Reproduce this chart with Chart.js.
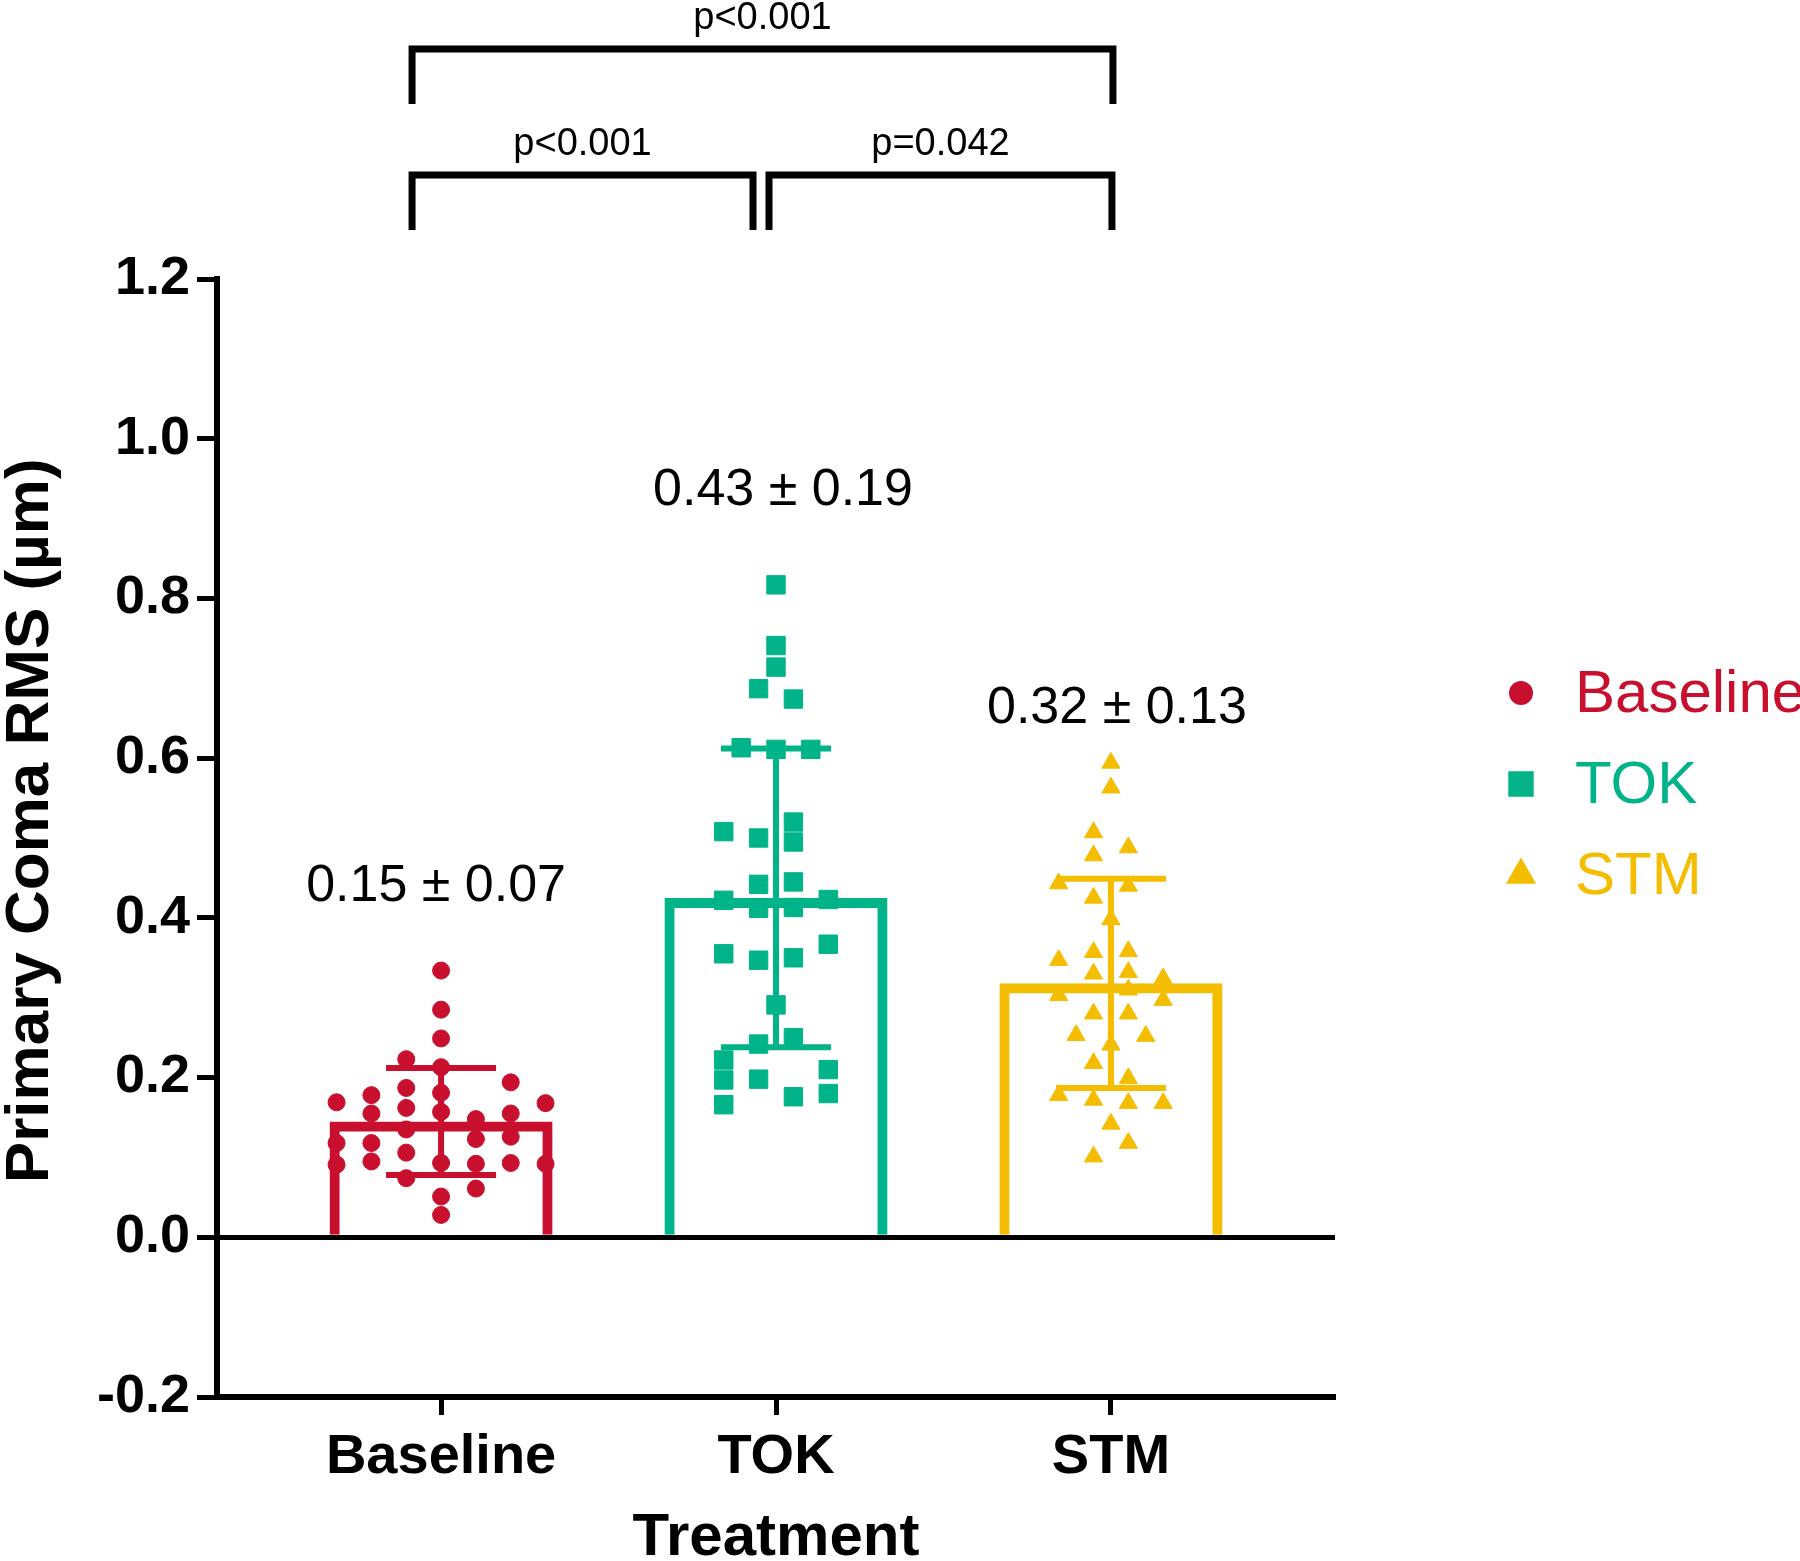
<!DOCTYPE html>
<html>
<head>
<meta charset="utf-8">
<script src="https://cdn.jsdelivr.net/npm/chart.js@4.4.0/dist/chart.umd.min.js"></script>
<style>
  html, body { margin: 0; padding: 0; background: #fff; }
</style>
</head>
<body>
<canvas id="comaChart" width="1800" height="1561"></canvas>
<script>
// groups and summary values
var groups = ['Baseline', 'TOK', 'STM'];
var groupColors = ['#C8102E', '#00B388', '#F5BD00'];
var means = [0.145, 0.425, 0.318];
var sds = [0.067, 0.187, 0.131];
var meanLabels = ['0.15 ± 0.07', '0.43 ± 0.19', '0.32 ± 0.13'];

// individual eyes, with the swarm lane each point sits in
var baselineValues = [0.334, 0.285, 0.249, 0.213, 0.181, 0.157, 0.093, 0.051, 0.028,
                      0.223, 0.187, 0.162, 0.135, 0.106, 0.074,
                      0.178, 0.155, 0.118, 0.095,
                      0.169, 0.118, 0.091,
                      0.148, 0.123, 0.092, 0.061,
                      0.194, 0.155, 0.126, 0.093,
                      0.168, 0.092];
var baselineLanes = [0, 0, 0, 0, 0, 0, 0, 0, 0,
                     -2, -2, -2, -2, -2, -2,
                     -4, -4, -4, -4,
                     -6, -6, -6,
                     2, 2, 2, 2,
                     4, 4, 4, 4,
                     6, 6];

var tokValues = [0.817, 0.741, 0.714, 0.611, 0.291,
                 0.687, 0.500, 0.442, 0.412, 0.347, 0.242, 0.198,
                 0.674, 0.520, 0.495, 0.445, 0.413, 0.350, 0.250, 0.176,
                 0.613,
                 0.611,
                 0.508, 0.422, 0.355, 0.222, 0.197, 0.166,
                 0.423, 0.367, 0.210, 0.180];
var tokLanes = [0, 0, 0, 0, 0,
                -1, -1, -1, -1, -1, -1, -1,
                1, 1, 1, 1, 1, 1, 1, 1,
                -2,
                2,
                -3, -3, -3, -3, -3, -3,
                3, 3, 3, 3];

var stmValues = [0.594, 0.563, 0.398, 0.241, 0.142,
                 0.507, 0.478, 0.425, 0.357, 0.330, 0.280, 0.218, 0.172, 0.101,
                 0.488, 0.440, 0.358, 0.332, 0.310, 0.280, 0.199, 0.168, 0.118,
                 0.443, 0.347, 0.303, 0.178,
                 0.324, 0.297, 0.168,
                 0.253,
                 0.252];
var stmLanes = [0, 0, 0, 0, 0,
                -1, -1, -1, -1, -1, -1, -1, -1, -1,
                1, 1, 1, 1, 1, 1, 1, 1, 1,
                -3, -3, -3, -3,
                3, 3, 3,
                -2,
                2];

var yTicks = [-0.2, 0, 0.2, 0.4, 0.6, 0.8, 1.0, 1.2];

var laneStep = 0.052;
var FONT = '"Liberation Sans", Arial, sans-serif';

function swarm(groupIndex, values, lanes) {
    return values.map(function(v, i) {
        return { x: groupIndex + lanes[i] * laneStep, y: v };
    });
}

var errorBarPlugin = {
    id: 'errorBars',
    afterDatasetsDraw: function(chart) {
        var ctx = chart.ctx, xs = chart.scales.x, ys = chart.scales.y;
        ctx.save();
        ctx.lineWidth = 6;
        ctx.lineCap = 'butt';
        means.forEach(function(m, i) {
            var x = xs.getPixelForValue(i);
            var half = 55;
            var yTop = ys.getPixelForValue(m + sds[i]);
            var yBot = ys.getPixelForValue(m - sds[i]);
            ctx.strokeStyle = groupColors[i];
            ctx.beginPath();
            ctx.moveTo(x, yTop); ctx.lineTo(x, yBot);
            ctx.moveTo(x - half, yTop); ctx.lineTo(x + half, yTop);
            ctx.moveTo(x - half, yBot); ctx.lineTo(x + half, yBot);
            ctx.stroke();
        });
        ctx.restore();
    }
};

var annotatePlugin = {
    id: 'annotate',
    afterDraw: function(chart, args, opts) {
        var ctx = chart.ctx, xs = chart.scales.x, ys = chart.scales.y;
        var area = chart.chartArea;
        ctx.save();

        // mean ± SD labels
        ctx.fillStyle = '#000';
        ctx.font = '52px ' + FONT;
        ctx.textAlign = 'center';
        ctx.textBaseline = 'alphabetic';
        meanLabels.forEach(function(t, i) {
            ctx.fillText(t, xs.getPixelForValue(i) + opts.labelDx[i], ys.getPixelForValue(opts.labelY[i]));
        });

        // significance brackets
        ctx.strokeStyle = '#000';
        ctx.lineWidth = 7;
        ctx.lineJoin = 'miter';
        ctx.font = '38px ' + FONT;
        opts.brackets.forEach(function(b) {
            var x1 = xs.getPixelForValue(b.from) + b.inset[0];
            var x2 = xs.getPixelForValue(b.to) + b.inset[1];
            var yLine = area.top - b.rise;
            var yLeg = yLine + 55;
            ctx.beginPath();
            ctx.moveTo(x1, yLeg); ctx.lineTo(x1, yLine);
            ctx.lineTo(x2, yLine); ctx.lineTo(x2, yLeg);
            ctx.stroke();
            ctx.fillText(b.text, (x1 + x2) / 2, yLine - 20);
        });

        // legend on the right
        ctx.font = '60px ' + FONT;
        ctx.textAlign = 'left';
        ctx.textBaseline = 'middle';
        groups.forEach(function(g, i) {
            var ds = chart.data.datasets[i + 1];
            var y = area.top + 414 + i * 91;
            var mx = area.right + 186;
            ctx.fillStyle = groupColors[i];
            ctx.strokeStyle = groupColors[i];
            Chart.helpers.drawPoint(ctx, {
                pointStyle: ds.pointStyle, radius: ds.pointRadius, rotation: 0, borderWidth: 1
            }, mx, y);
            ctx.fillStyle = groupColors[i];
            ctx.fillText(g, area.right + 240, y + 2);
        });
        ctx.restore();
    }
};

var ctx = document.getElementById('comaChart').getContext('2d');
var comaChart = new Chart(ctx, {
    type: 'scatter',
    data: {
        datasets: [{
            type: 'bar',
            label: 'Mean',
            data: means.map(function(m, i) { return { x: i, y: m }; }),
            backgroundColor: 'rgba(0,0,0,0)',
            borderColor: groupColors,
            borderWidth: 10,
            borderSkipped: 'start',
            barPercentage: 0.666,
            categoryPercentage: 1,
            order: 3
        }, {
            label: 'Baseline',
            data: swarm(0, baselineValues, baselineLanes),
            pointStyle: 'circle',
            pointRadius: 8.5,
            backgroundColor: groupColors[0],
            borderColor: groupColors[0],
            borderWidth: 1
        }, {
            label: 'TOK',
            data: swarm(1, tokValues, tokLanes),
            pointStyle: 'rect',
            pointRadius: 13,
            backgroundColor: groupColors[1],
            borderColor: groupColors[1],
            borderWidth: 1
        }, {
            label: 'STM',
            data: swarm(2, stmValues, stmLanes),
            pointStyle: 'triangle',
            pointRadius: 10.5,
            backgroundColor: groupColors[2],
            borderColor: groupColors[2],
            borderWidth: 1
        }]
    },
    options: {
        responsive: false,
        animation: false,
        devicePixelRatio: 1,
        layout: {
            padding: { top: 279, right: 465, bottom: 0, left: 0 }
        },
        scales: {
            x: {
                type: 'linear',
                min: -0.669,
                max: 2.669,
                offset: false,
                afterFit: function(scale) { scale.height = 164; },
                afterBuildTicks: function(scale) {
                    scale.ticks = groups.map(function(g, i) { return { value: i }; });
                },
                ticks: {
                    color: '#000',
                    padding: 9,
                    font: { family: FONT, size: 56, weight: 'bold' },
                    callback: function(v) { return groups[v]; }
                },
                grid: {
                    offset: false,
                    drawOnChartArea: false,
                    tickLength: 18,
                    tickWidth: 5,
                    tickColor: '#000'
                },
                border: { color: '#000', width: 6 },
                title: {
                    display: true,
                    text: 'Treatment',
                    color: '#000',
                    font: { family: FONT, size: 60, weight: 'bold', lineHeight: 0.75 },
                    padding: { top: 0, bottom: 0 }
                }
            },
            y: {
                min: -0.2,
                max: 1.2,
                afterFit: function(scale) { scale.width = 217; },
                afterBuildTicks: function(scale) {
                    scale.ticks = yTicks.map(function(v) { return { value: v }; });
                },
                ticks: {
                    color: '#000',
                    padding: 7,
                    font: { family: FONT, size: 54, weight: 'bold' },
                    callback: function(v) { return v.toFixed(1); }
                },
                grid: {
                    color: function(c) { return c.tick && Math.abs(c.tick.value) < 1e-9 ? '#000' : 'rgba(0,0,0,0)'; },
                    lineWidth: 5,
                    tickLength: 20,
                    tickWidth: 5,
                    tickColor: '#000'
                },
                border: { color: '#000', width: 6 },
                title: {
                    display: true,
                    text: '  Primary Coma RMS (µm)',
                    color: '#000',
                    font: { family: FONT, size: 62, weight: 'bold', lineHeight: 1 },
                    padding: { top: 0, bottom: 0 }
                }
            }
        },
        plugins: {
            legend: { display: false },
            tooltip: { enabled: false },
            annotate: {
                labelY: [0.4216, 0.9175, 0.6438],
                labelDx: [-5, 7, 6],
                brackets: [
                    { from: 0, to: 1, inset: [-29, -23], rise: 104, text: 'p<0.001' },
                    { from: 1, to: 2, inset: [-7, 1], rise: 104, text: 'p=0.042' },
                    { from: 0, to: 2, inset: [-29, 2], rise: 230, text: 'p<0.001' }
                ]
            }
        }
    },
    plugins: [errorBarPlugin, annotatePlugin]
});
</script>
</body>
</html>
